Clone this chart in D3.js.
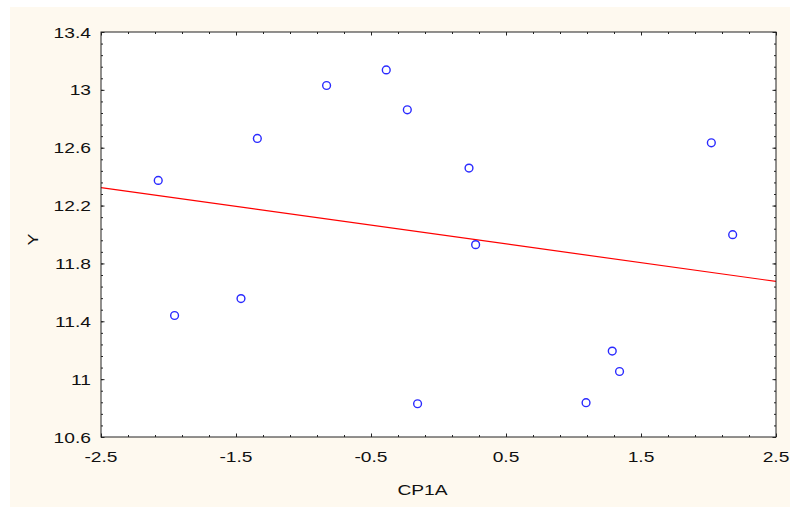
<!DOCTYPE html>
<html>
<head>
<meta charset="utf-8">
<script src="https://cdn.jsdelivr.net/npm/d3@7"></script>
<style>
body { margin: 0; background: #fff; }
text { font-family: Arial, "Liberation Sans", sans-serif; fill: #111; }
</style>
</head>
<body>
<svg></svg>
<script>
// CP1A vs Y
var cp1a = [-2.076, -1.955, -1.463, -1.342, -0.829, -0.387, -0.231, -0.155,
            0.226, 0.275, 1.093, 1.287, 1.341, 2.021, 2.179];
var yVals = [12.374, 11.44, 11.557, 12.664, 13.03, 13.138, 12.862, 10.83,
             12.459, 11.93, 10.837, 11.194, 11.053, 12.634, 11.999];
var xTicks = [-2.5, -1.5, -0.5, 0.5, 1.5, 2.5];
var yTicks = [10.6, 11, 11.4, 11.8, 12.2, 12.6, 13, 13.4];

var viewWidth = 794;
var viewHeight = 507;
var margin = {top: 32, right: 18, bottom: 70, left: 101};
var w = viewWidth - margin.left - margin.right;
var h = viewHeight - margin.top - margin.bottom;
var stretch = 1.24; // the labels in the picture are drawn wide
var fmt = d3.formatLocale({decimal: ".", thousands: ",", grouping: [3],
    currency: ["", ""], minus: "-"}).format("");

var root = d3.select("svg")
    .attr("width", viewWidth)
    .attr("height", viewHeight);

root.append("rect")
    .attr("x", 10)
    .attr("y", 7)
    .attr("width", viewWidth - 14)
    .attr("height", viewHeight - 7)
    .attr("fill", "#fef9ef");

var svg = root.append("g")
    .attr("transform", "translate(" + margin.left + "," + margin.top + ")");

var xScale = d3.scaleLinear().domain([-2.5, 2.5]).range([0, w]);
var yScale = d3.scaleLinear().domain([10.6, 13.4]).range([h, 0]);

svg.append("rect")
    .attr("width", w)
    .attr("height", h)
    .attr("fill", "#fff");

var data = cp1a.map(function (x, i) { return {x: x, y: yVals[i]}; });

// least squares fit
var mx = d3.mean(cp1a), my = d3.mean(yVals);
var sxy = d3.sum(data, function (d) { return (d.x - mx) * (d.y - my); });
var sxx = d3.sum(data, function (d) { return (d.x - mx) * (d.x - mx); });
var slope = sxy / sxx;
var intercept = my - slope * mx;

svg.append("line")
    .attr("x1", xScale(-2.5))
    .attr("y1", yScale(intercept + slope * -2.5))
    .attr("x2", xScale(2.5))
    .attr("y2", yScale(intercept + slope * 2.5))
    .attr("stroke", "#ff0000")
    .attr("stroke-width", 1.2);

svg.selectAll("circle")
    .data(data)
    .enter()
    .append("circle")
    .attr("cx", function (d) { return xScale(d.x); })
    .attr("cy", function (d) { return yScale(d.y); })
    .attr("r", 3.9)
    .attr("fill", "none")
    .attr("stroke", "#2a2aff")
    .attr("stroke-width", 1.4);

// minor ticks
var xMinor = d3.range(0, 26).map(function (i) { return -2.5 + i * 0.2; });
var yMinor = d3.range(0, 36).map(function (i) { return 10.6 + i * 0.08; });

function axis(gen, scale, vals, size) {
    return gen(scale).tickValues(vals).tickSize(size).tickFormat("");
}

// bottom
svg.append("g").attr("transform", "translate(0," + h + ")")
    .call(axis(d3.axisTop, xScale, xMinor, 2));
svg.append("g").attr("transform", "translate(0," + h + ")")
    .call(axis(d3.axisTop, xScale, xTicks, 3.5));
// top
svg.append("g").call(axis(d3.axisBottom, xScale, xMinor, 2));
svg.append("g").call(axis(d3.axisBottom, xScale, xTicks, 3.5));
// left
svg.append("g").call(axis(d3.axisRight, yScale, yMinor, 2));
svg.append("g").call(axis(d3.axisRight, yScale, yTicks, 3.5));
// right
svg.append("g").attr("transform", "translate(" + w + ",0)")
    .call(axis(d3.axisLeft, yScale, yMinor, 2));
svg.append("g").attr("transform", "translate(" + w + ",0)")
    .call(axis(d3.axisLeft, yScale, yTicks, 3.5));

svg.selectAll(".domain").remove();
svg.selectAll(".tick line").attr("stroke", "#222");

svg.append("rect")
    .attr("width", w)
    .attr("height", h)
    .attr("fill", "none")
    .attr("stroke", "#222")
    .attr("stroke-width", 1);

// tick labels
svg.selectAll("text.xlab")
    .data(xTicks)
    .enter()
    .append("text")
    .attr("class", "xlab")
    .attr("transform", function (d) {
        return "translate(" + xScale(d) + "," + (h + 24.5) + ") scale(" + stretch + ",1)";
    })
    .attr("text-anchor", "middle")
    .attr("font-size", "15.5px")
    .text(fmt);

svg.selectAll("text.ylab")
    .data(yTicks)
    .enter()
    .append("text")
    .attr("class", "ylab")
    .attr("transform", function (d) {
        return "translate(-10," + (yScale(d) + 5.5) + ") scale(" + stretch + ",1)";
    })
    .attr("text-anchor", "end")
    .attr("font-size", "15.5px")
    .text(fmt);

svg.append("text")
    .attr("transform", "translate(" + (w / 2 - 16) + "," + (h + 58) + ") scale(" + stretch + ",1)")
    .attr("text-anchor", "middle")
    .attr("font-size", "15.5px")
    .text("CP1A");

svg.append("text")
    .attr("transform", "translate(" + (-63) + "," + (h / 2 + 5) + ") rotate(-90) scale(1.15,1)")
    .attr("text-anchor", "middle")
    .attr("font-size", "15.5px")
    .text("Y");
</script>
</body>
</html>
